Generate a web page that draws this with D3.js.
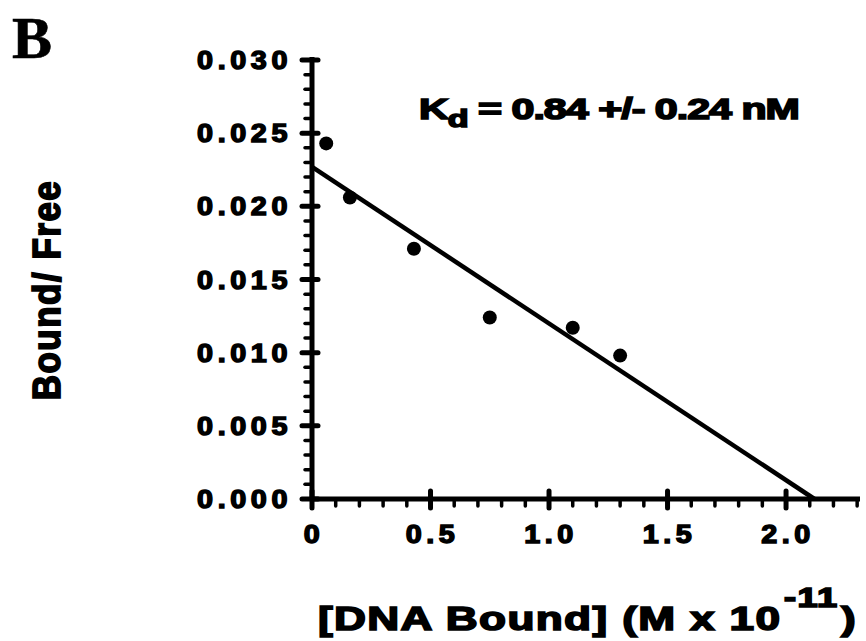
<!DOCTYPE html>
<html>
<head>
<meta charset="utf-8">
<script src="https://cdn.jsdelivr.net/npm/d3@7"></script>
<style>
  body { margin: 0; background: #fff; }
  svg text { font-family: "Liberation Sans", Arial, sans-serif; font-weight: bold; fill: #000; }
</style>
</head>
<body>
<div id="chart"></div>
<script>
// Scatchard plot, panel B

// data
var boundDNA  = [0.06, 0.16, 0.43, 0.75, 1.10, 1.30];          // [DNA Bound] (M x 10^-11)
var boundFree = [0.0243, 0.0206, 0.0171, 0.0124, 0.0117, 0.0098]; // Bound/Free
var fitLine   = [{x: 0, y: 0.0227}, {x: 2.12, y: 0}];          // linear fit
var xTicks = [0, 0.5, 1.0, 1.5, 2.0];
var xTickLabels = ["0", "0.5", "1.0", "1.5", "2.0"];
var yTicks = [0, 0.005, 0.010, 0.015, 0.020, 0.025, 0.030];
var yTickLabels = ["0.000", "0.005", "0.010", "0.015", "0.020", "0.025", "0.030"];
var kdText = ["K", "d", " = 0.84 +/- 0.24 nM"];

var width = 866, height = 641;
var plot = {left: 312, right: 860, top: 60, bottom: 499};

var svg = d3.select("#chart").append("svg")
   .attr("width", width).attr("height", height);

var xScale = d3.scaleLinear().domain([0, 2.312]).range([plot.left, plot.right]);
var yScale = d3.scaleLinear().domain([0, 0.030]).range([plot.bottom, plot.top]);

var ink = "#000";
var sx = 1.15; // text in the source is stretched sideways

// minor ticks
var xMinor = d3.range(0, 2.31, 0.1);
var yMinor = d3.range(0, 0.0301, 0.001);

svg.append("g").selectAll("line").data(xMinor).enter().append("line")
   .attr("x1", function(d){ return xScale(d); }).attr("x2", function(d){ return xScale(d); })
   .attr("y1", plot.bottom).attr("y2", plot.bottom + 7)
   .attr("stroke", ink).attr("stroke-width", 3.5).attr("stroke-linecap", "round");
svg.append("g").selectAll("line").data(yMinor).enter().append("line")
   .attr("y1", function(d){ return yScale(d); }).attr("y2", function(d){ return yScale(d); })
   .attr("x1", plot.left - 7).attr("x2", plot.left)
   .attr("stroke", ink).attr("stroke-width", 3.5).attr("stroke-linecap", "round");

// major ticks cross the axis
svg.append("g").selectAll("line").data(xTicks).enter().append("line")
   .attr("x1", function(d){ return xScale(d); }).attr("x2", function(d){ return xScale(d); })
   .attr("y1", plot.bottom - 8).attr("y2", plot.bottom + 9)
   .attr("stroke", ink).attr("stroke-width", 5).attr("stroke-linecap", "round");
svg.append("g").selectAll("line").data(yTicks).enter().append("line")
   .attr("y1", function(d){ return yScale(d); }).attr("y2", function(d){ return yScale(d); })
   .attr("x1", plot.left - 10).attr("x2", plot.left + 6)
   .attr("stroke", ink).attr("stroke-width", 5).attr("stroke-linecap", "round");

// axis lines
svg.append("line")
   .attr("x1", plot.left).attr("x2", plot.right)
   .attr("y1", plot.bottom).attr("y2", plot.bottom)
   .attr("stroke", ink).attr("stroke-width", 5);
svg.append("line")
   .attr("x1", plot.left).attr("x2", plot.left)
   .attr("y1", plot.top - 3).attr("y2", plot.bottom + 2)
   .attr("stroke", ink).attr("stroke-width", 5);

// tick labels
function stretched(sel, x, y, anchor, k) {
   return sel.append("text")
      .attr("transform", "translate(" + x + "," + y + ") scale(" + (k || sx) + ",1)")
      .attr("text-anchor", anchor);
}
xTicks.forEach(function(d, i) {
   stretched(svg, xScale(d) + 2, plot.bottom + 44, "middle")
      .style("font-size", "25px").style("letter-spacing", "4px")
      .attr("stroke", ink).attr("stroke-width", 1.4)
      .text(xTickLabels[i]);
});
yTicks.forEach(function(d, i) {
   stretched(svg, 292, yScale(d) + 9, "end")
      .style("font-size", "25px").style("letter-spacing", "4px")
      .attr("stroke", ink).attr("stroke-width", 1.4)
      .text(yTickLabels[i]);
});

// fit line
var line = d3.line().x(function(d){ return xScale(d.x); }).y(function(d){ return yScale(d.y); });
svg.append("path").datum(fitLine)
   .attr("d", line).attr("fill", "none")
   .attr("stroke", ink).attr("stroke-width", 4.5);

// points
svg.append("g").selectAll("circle").data(boundDNA).enter().append("circle")
   .attr("cx", function(d){ return xScale(d); })
   .attr("cy", function(d, i){ return yScale(boundFree[i]); })
   .attr("r", 7).attr("fill", ink);

// Kd annotation
var kd = stretched(svg, 419, 119, "start", 1.42)
   .style("font-size", "29px").style("letter-spacing", "-0.7px")
   .attr("stroke", ink).attr("stroke-width", 1.6);
kd.append("tspan").text(kdText[0]);
kd.append("tspan").attr("dy", 8).style("font-size", "24px").text(kdText[1]);
kd.append("tspan").attr("dy", -8).text(kdText[2]);

// axis titles
svg.append("text")
   .attr("transform", "translate(60,290) rotate(-90) scale(1,1.1)")
   .attr("text-anchor", "middle")
   .style("font-size", "35px").style("letter-spacing", "1.5px")
   .attr("stroke", ink).attr("stroke-width", 1.6)
   .text("Bound/ Free");

var xt = stretched(svg, 318, 630, "start", 1.34)
   .style("font-size", "33px").style("letter-spacing", "1px")
   .attr("stroke", ink).attr("stroke-width", 1.6);
xt.append("tspan").text("[DNA Bound] (M x 10");
xt.append("tspan").attr("dy", -23).attr("dx", 2).style("font-size", "27px").text("-11");
xt.append("tspan").attr("dy", 23).attr("dx", 2).text(")");

// panel letter
svg.append("text")
   .attr("x", 12).attr("y", 58)
   .style("font-family", "'Liberation Serif', 'Times New Roman', serif")
   .style("font-size", "60px")
   .attr("stroke", ink).attr("stroke-width", 0.6)
   .text("B");
</script>
</body>
</html>
